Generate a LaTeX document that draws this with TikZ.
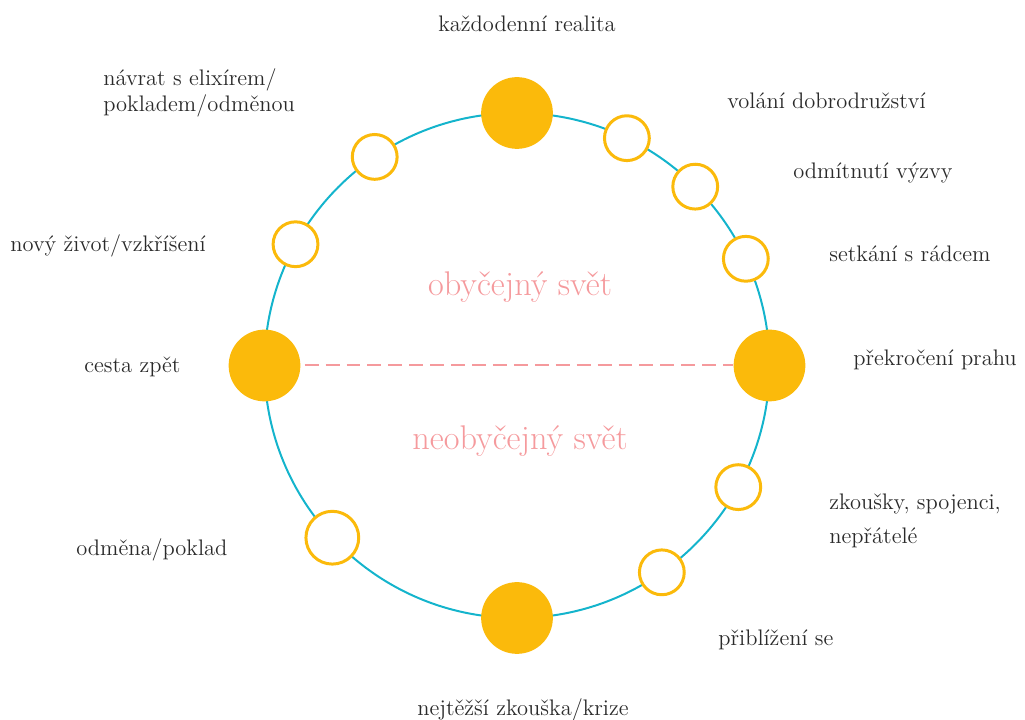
\documentclass[tikz,border=0pt]{standalone}
\usepackage{tikz}
\usetikzlibrary{calc}
\definecolor{sun}{HTML}{FBBA0B}
\definecolor{ring}{HTML}{14B4CC}
\definecolor{rose}{HTML}{F59A9D}
\definecolor{ink}{HTML}{2A2A2A}
\tikzset{
	bigstop/.style={circle, fill=sun, inner sep=0pt, minimum size=72\unitpx},
	smallstop/.style={circle, draw=sun, line width=3\unitpx, fill=white, inner sep=0pt, minimum size=45\unitpx},
	lbl/.style={text=ink, inner sep=0pt, font=\fontsize{12.8}{14.8}\selectfont, align=left},
	world/.style={text=rose, inner sep=0pt, font=\fontsize{19.5}{22}\selectfont}
}
\newcommand{\unitpx}{pt*0.567}
\begin{document}
\begin{tikzpicture}[x=0.02cm, y=0.02cm]
			%%%%% FRAME %%%%%
			\useasboundingbox (0, 0) rectangle (1025, 720);
			
			\coordinate (c) at (517, 354.5);
			\draw[ring, line width=2\unitpx] (c) circle (252.5);
			
			%%%%% STOPS %%%%%
			\node[bigstop] (reality) at ($(c)+(90:252.5)$) {};
			\node[bigstop] (threshold) at ($(c)+(0:252.5)$) {};
			\node[bigstop] (ordeal) at ($(c)+(270:252.5)$) {};
			\node[bigstop] (road) at ($(c)+(180:252.5)$) {};
			
			\node[smallstop] (call) at ($(c)+(64.2:252.5)$) {};
			\node[smallstop] (refusal) at ($(c)+(45.1:252.5)$) {};
			\node[smallstop] (mentor) at ($(c)+(25:252.5)$) {};
			\node[smallstop] (tests) at ($(c)+(-28.8:252.5)$) {};
			\node[smallstop] (approach) at ($(c)+(-55:252.5)$) {};
			\node[smallstop, minimum size=53\unitpx] (reward) at ($(c)+(223:252.5)$) {};
			\node[smallstop] (rebirth) at ($(c)+(151.3:252.5)$) {};
			\node[smallstop] (elixir) at ($(c)+(124.3:252.5)$) {};
			
			% boundary between the two worlds
			\draw[rose, line width=2\unitpx, dash pattern=on 14\unitpx off 7\unitpx, shorten <=4\unitpx]
				(road.east) -- (threshold.west);
			
			\node[world] (ordinary) at (520, 433) {obyčejný svět};
			\node[world] (special) at (520, 279) {neobyčejný svět};
			
			%%%%% LABELS %%%%%
			\node[lbl] (reality-l) at (527, 696) {každodenní realita};
			\node[lbl, anchor=west] (call-l) at (727, 619) {volání dobrodružství};
			\node[lbl, anchor=west] (refusal-l) at (793, 547) {odmítnutí výzvy};
			\node[lbl, anchor=west] (mentor-l) at (829, 466) {setkání s rádcem};
			\node[lbl, anchor=west] (threshold-l) at (853, 360) {překročení prahu};
			\node[lbl, anchor=west] (tests-l) at (829, 199) {zkoušky, spojenci,\\[4.5pt]nepřátelé};
			\node[lbl, anchor=west] (approach-l) at (718, 80) {přiblížení se};
			\node[lbl] (ordeal-l) at (523, 10) {nejtěžší zkouška/krize};
			\node[lbl, anchor=west] (reward-l) at (76, 170) {odměna/poklad};
			\node[lbl, anchor=west] (road-l) at (84, 353) {cesta zpět};
			\node[lbl, anchor=west] (rebirth-l) at (10, 474) {nový život/vzkříšení};
			\node[lbl, anchor=west] (elixir-l) at (103, 627) {návrat s elixírem/\\pokladem/odměnou};
			
			%%%%% END %%%%%
\end{tikzpicture}
\end{document}
